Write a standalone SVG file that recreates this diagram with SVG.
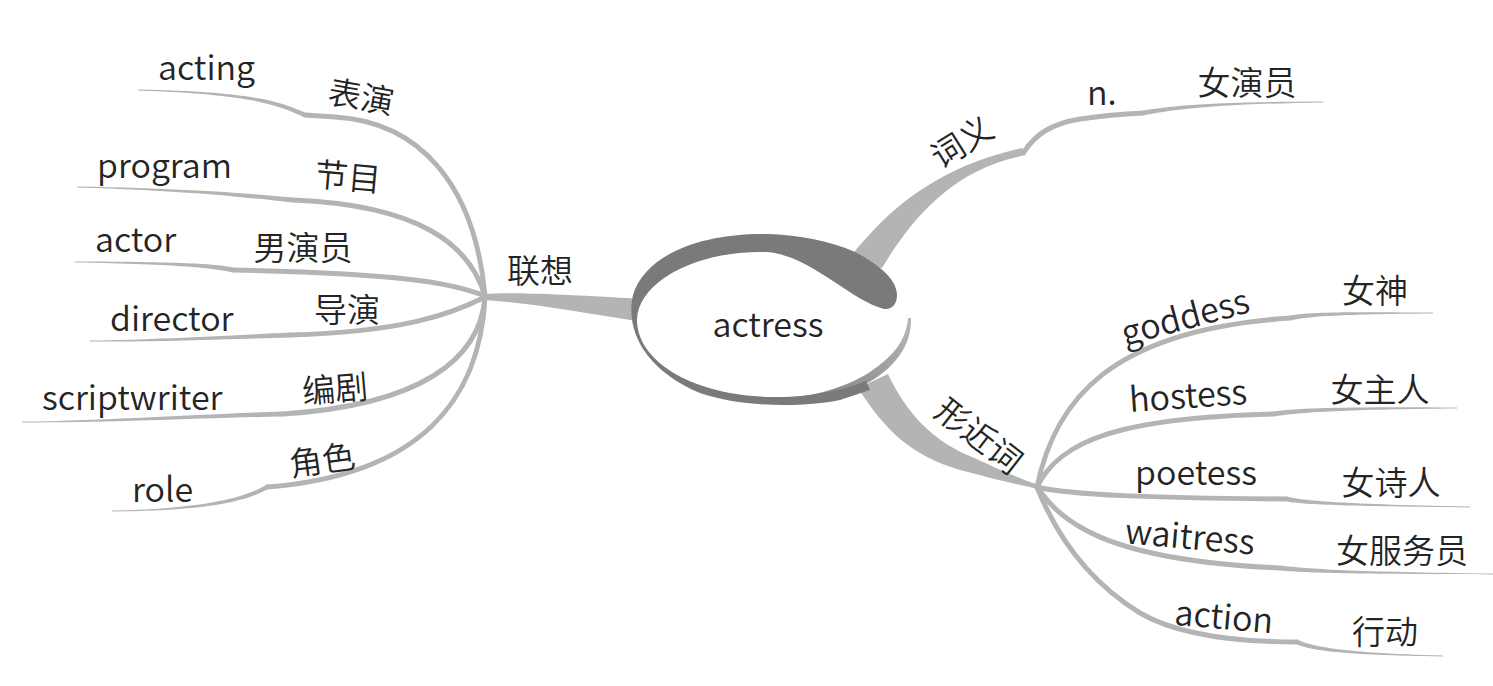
<svg xmlns="http://www.w3.org/2000/svg" width="1493" height="686" viewBox="0 0 1493 686">
<style>
.br{fill:none;stroke:#b4b4b4;stroke-width:5;stroke-linecap:round;stroke-linejoin:round}
.tp{fill:#b4b4b4;stroke:none}
.en{font-family:"Noto Sans CJK SC","Noto Sans",sans-serif;font-size:34px;font-weight:350;fill:#242424}
.zh{font-family:"Noto Sans CJK SC","Noto Sans CJK JP",sans-serif;font-size:33px;font-weight:350;fill:#242424}
.mid{text-anchor:middle}
</style>
<defs>
<linearGradient id="rimg" x1="0" y1="1" x2="1" y2="0">
<stop offset="0" stop-color="#7c7c7c"/>
<stop offset="1" stop-color="#b8b8b8"/>
</linearGradient>
</defs>
<rect width="1493" height="686" fill="#ffffff"/>
<g id="connectors">
<path class="tp" d="M484,294 C510,292 560,294 642,299 L642,322 C585,313 530,303 484,300 Z"/>
<path class="br" d="M485,296 C475,185 420,122 335,117 L305,115"/>
<path class="tp" d="M305,112.5 C280,102 255,91.8 138,89.6 L138,90.4 C255,94.2 280,106 305,117.5 Z"/>
<path class="br" d="M485,296 C470,245 420,205 293,200"/>
<path class="tp" d="M293,197.5 C250,194 200,188.8 77,186.6 L77,187.4 C200,191.2 250,198 293,202.5 Z"/>
<path class="br" d="M485,296 C450,282 400,274 233,270"/>
<path class="tp" d="M233,267.5 C215,264 180,261.8 75,261.6 L75,262.4 C180,264.2 215,268 233,272.5 Z"/>
<path class="br" d="M485,297 C450,315 400,332 290,335"/>
<path class="tp" d="M290,332.5 C240,335 150,339.8 90,340.6 L90,341.4 C150,342.2 240,339 290,337.5 Z"/>
<path class="br" d="M485,297 C480,360 420,405 283,414"/>
<path class="tp" d="M283,411.5 C200,414 100,420.8 22,421.6 L22,422.4 C100,423.2 200,418 283,416.5 Z"/>
<path class="br" d="M485,297 C480,400 420,475 267,487"/>
<path class="tp" d="M267,484.5 C245,498 200,508.8 112,510.6 L112,511.4 C200,511.2 245,502 267,489.5 Z"/>
<path class="tp" d="M846,262 C870,232 890,212 912,196 C940,176 975,158 1022,148 L1026,155 C990,162 965,176 945,192 C920,212 900,238 882,268 Z"/>
<path class="br" d="M1024,152 C1035,135 1050,124 1080,119 C1100,116 1120,114 1143,113"/>
<path class="tp" d="M1143,110.5 C1173,106 1207,101.8 1323,101.6 L1323,102.4 C1207,104.2 1173,110 1143,115.5 Z"/>
<path class="tp" d="M858,388 C885,430 910,455 960,470 C990,478 1015,484 1038,489 L1038,485 C1010,475 990,465 972,457 C930,440 905,410 888,374 Z"/>
<path class="br" d="M1037,487 C1055,400 1110,330 1290,318"/>
<path class="tp" d="M1290,315.5 C1310,312 1340,311.8 1433,312.6 L1433,313.4 C1340,314.2 1310,316 1290,320.5 Z"/>
<path class="br" d="M1037,487 C1060,440 1120,418 1273,414"/>
<path class="tp" d="M1273,411.5 C1300,408 1350,406.8 1457,407.6 L1457,408.4 C1350,409.2 1300,412 1273,416.5 Z"/>
<path class="br" d="M1037,487 C1070,495 1150,498 1287,499"/>
<path class="tp" d="M1287,496.5 C1300,500 1330,503.8 1470,506.6 L1470,507.4 C1330,506.2 1300,504 1287,501.5 Z"/>
<path class="br" d="M1037,487 C1060,520 1100,560 1280,568"/>
<path class="tp" d="M1280,565.5 C1310,569 1350,571.8 1493,573.6 L1493,574.4 C1350,574.2 1310,573 1280,570.5 Z"/>
<path class="br" d="M1037,487 Q1070,570 1140,613 Q1190,642 1297,642"/>
<path class="tp" d="M1297,639.5 C1310,646 1340,652.8 1443,655.6 L1443,656.4 C1340,655.2 1310,650 1297,644.5 Z"/>
</g>
<g id="center">
<ellipse cx="771" cy="323" rx="136" ry="73" fill="#ffffff"/>
<path d="M911,318 C912,345 895,370 860,387 C840,396 815,402 790,405 L790,398 C820,395 850,385 870,372 C895,355 906,340 908,318 Z" fill="url(#rimg)"/>
<path d="M897,295 C897,280 880,265 855,252 C830,241 800,235 767,234 C700,233 645,255 633,295 C625,330 645,370 700,393 C740,407 800,408 840,400 L870,390 L866,381 C845,390 810,398 770,397 C690,395 637,360 637,320 C638,280 700,250 767,252 C790,254 810,266 833,281 C850,292 868,305 884,309 C892,310 897,304 897,295 Z" fill="#7a7a7a"/>
<text class="en mid" x="768" y="337">actress</text>
</g>
<g id="n-lianxiang"><text class="zh mid" x="540" y="283">联想</text></g>
<g id="n-biaoyan"><text class="zh mid" transform="translate(361,97) rotate(10)" y="12">表演</text></g>
<g id="n-acting"><text class="en" x="158" y="80">acting</text></g>
<g id="n-jiemu"><text class="zh mid" transform="translate(348,177) rotate(5)" y="12">节目</text></g>
<g id="n-program"><text class="en" x="97" y="178">program</text></g>
<g id="n-nanyanyuan"><text class="zh mid" x="303" y="260">男演员</text></g>
<g id="n-actor"><text class="en" x="95" y="252">actor</text></g>
<g id="n-daoyan"><text class="zh mid" x="347" y="322">导演</text></g>
<g id="n-director"><text class="en" x="110" y="331">director</text></g>
<g id="n-bianju"><text class="zh mid" transform="translate(335,389) rotate(-5)" y="12">编剧</text></g>
<g id="n-scriptwriter"><text class="en" x="42" y="410">scriptwriter</text></g>
<g id="n-juese"><text class="zh mid" transform="translate(322,460) rotate(-8)" y="12">角色</text></g>
<g id="n-role"><text class="en" x="132" y="502">role</text></g>
<g id="n-ciyi"><text class="zh mid" transform="translate(962,142) rotate(-32)" y="12">词义</text></g>
<g id="n-n"><text class="en" x="1087" y="105">n.</text></g>
<g id="n-nvyanyuan"><text class="zh mid" x="1247" y="95">女演员</text></g>
<g id="n-xingjinci"><text class="zh mid" transform="translate(979,436) rotate(38)" y="12">形近词</text></g>
<g id="n-goddess"><text class="en mid" transform="translate(1186,320) rotate(-15)" y="9">goddess</text></g>
<g id="n-nvshen"><text class="zh mid" x="1375" y="303">女神</text></g>
<g id="n-hostess"><text class="en mid" transform="translate(1188,396) rotate(-4)" y="12">hostess</text></g>
<g id="n-nvzhuren"><text class="zh mid" x="1380" y="402">女主人</text></g>
<g id="n-poetess"><text class="en" x="1135" y="485">poetess</text></g>
<g id="n-nvshiren"><text class="zh mid" x="1391" y="495">女诗人</text></g>
<g id="n-waitress"><text class="en mid" transform="translate(1190,537) rotate(5)" y="12">waitress</text></g>
<g id="n-nvfuwuyuan"><text class="zh mid" x="1402" y="563">女服务员</text></g>
<g id="n-action"><text class="en mid" transform="translate(1224,617) rotate(5)" y="12">action</text></g>
<g id="n-xingdong"><text class="zh mid" x="1385" y="644">行动</text></g>
</svg>
